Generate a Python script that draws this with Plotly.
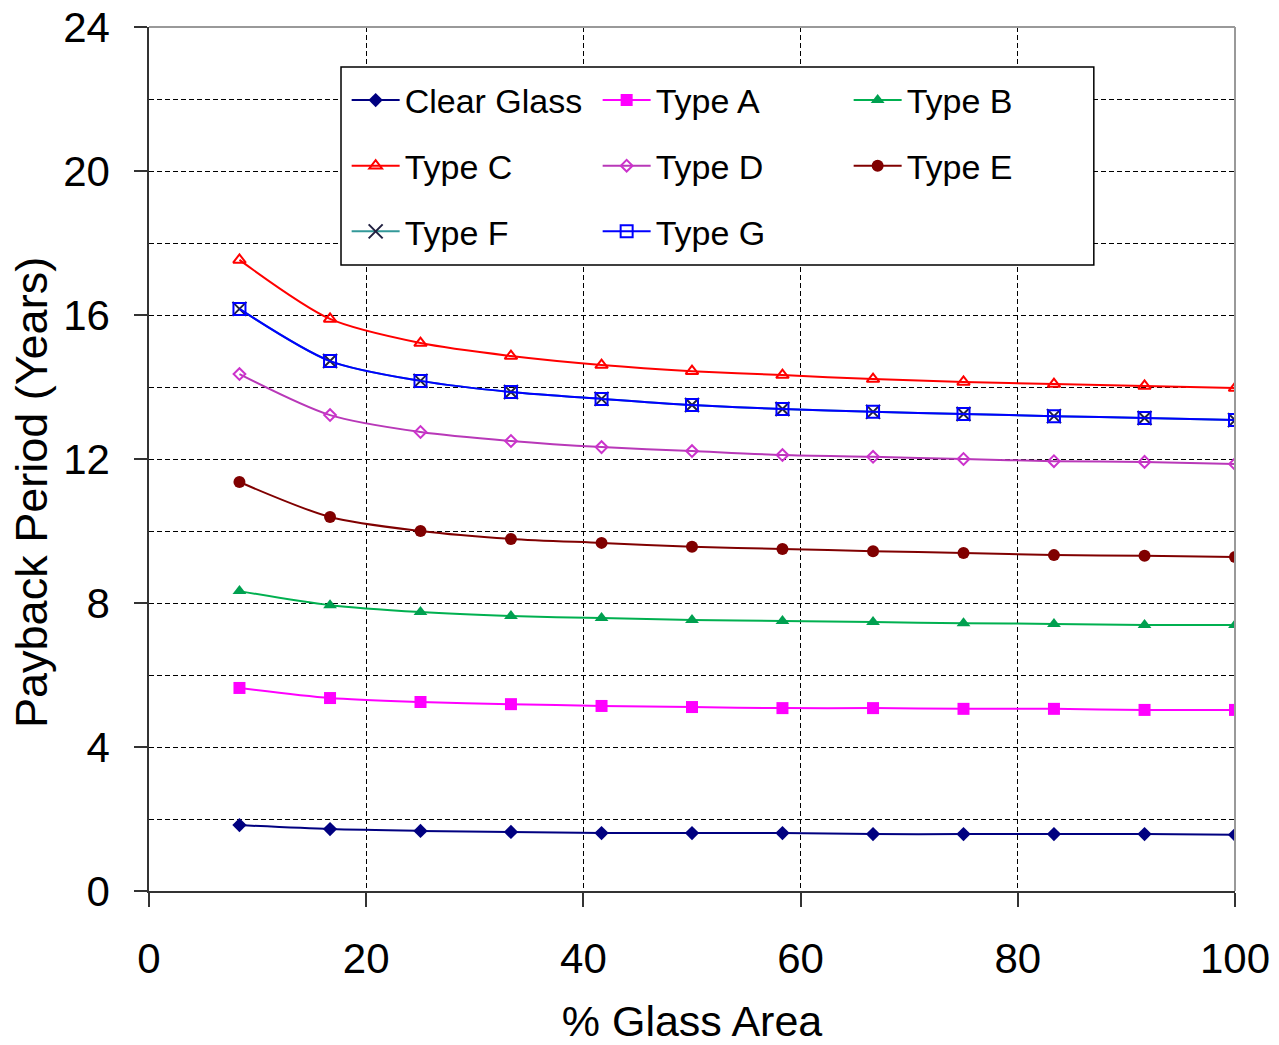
import plotly.graph_objects as go

glass_area = [8.33, 16.67, 25.0, 33.33, 41.67, 50.0, 58.33, 66.67, 75.0, 83.33, 91.67, 100.0]

clear_glass = [1.83, 1.72, 1.67, 1.64, 1.61, 1.61, 1.61, 1.58, 1.58, 1.58, 1.58, 1.56]
type_a = [5.64, 5.36, 5.25, 5.19, 5.14, 5.11, 5.08, 5.08, 5.06, 5.06, 5.03, 5.03]
type_b = [8.33, 7.94, 7.75, 7.64, 7.58, 7.53, 7.50, 7.47, 7.44, 7.42, 7.39, 7.39]
type_c = [17.53, 15.89, 15.22, 14.86, 14.61, 14.44, 14.33, 14.22, 14.14, 14.08, 14.03, 13.97]
type_d = [14.36, 13.22, 12.75, 12.50, 12.33, 12.22, 12.11, 12.06, 12.00, 11.94, 11.92, 11.86]
type_e = [11.36, 10.39, 10.00, 9.78, 9.67, 9.56, 9.50, 9.44, 9.39, 9.33, 9.31, 9.28]
type_f = [16.17, 14.72, 14.17, 13.86, 13.67, 13.50, 13.39, 13.31, 13.25, 13.19, 13.14, 13.08]
type_g = [16.17, 14.72, 14.17, 13.86, 13.67, 13.50, 13.39, 13.31, 13.25, 13.19, 13.14, 13.08]

x_ticks = [0, 20, 40, 60, 80, 100]
y_ticks = [0, 4, 8, 12, 16, 20, 24]

x_title = "% Glass Area"
y_title = "Payback Period (Years)"

FONT = "Liberation Sans, Arial, sans-serif"

series = [
    # name, values, line colour, marker symbol, marker colour, marker line colour, size, legend id
    ("Clear Glass", clear_glass, "#000080", "diamond", "#000080", "#000080", 11, "legend"),
    ("Type A", type_a, "#FF00FF", "square", "#FF00FF", "#FF00FF", 12, "legend"),
    ("Type B", type_b, "#00B050", "triangle-up", "#00A050", "#00A050", 12, "legend"),
    ("Type C", type_c, "#FF0000", "triangle-up-open", "#FF0000", "#FF0000", 11, "legend2"),
    ("Type D", type_d, "#B838B8", "diamond-open", "#CC33CC", "#CC33CC", 9, "legend2"),
    ("Type E", type_e, "#800000", "circle", "#800000", "#800000", 12, "legend2"),
    ("Type F", type_f, "#339999", "x-thin", "#202040", "#202040", 14, "legend3"),
    ("Type G", type_g, "#0000FF", "square-open", "#0000FF", "#0000FF", 12, "legend3"),
]

fig = go.Figure()
for name, vals, lc, sym, mc, mlc, size, leg in series:
    fig.add_trace(go.Scatter(
        x=glass_area, y=vals, name=name, mode="lines+markers",
        line=dict(color=lc, width=2, shape="spline", smoothing=0.8),
        marker=dict(symbol=sym, size=size, color=mc,
                    line=dict(color=mlc, width=2 if "open" in sym or "thin" in sym else 0)),
        legend=leg,
    ))

legend_common = dict(
    orientation="h", xanchor="left", yanchor="middle",
    font=dict(family=FONT, size=34, color="black"),
    bgcolor="rgba(0,0,0,0)", borderwidth=0,
    entrywidth=188, entrywidthmode="pixels", itemwidth=48,
    traceorder="normal",
)
lx = 0.182
fig.update_layout(
    legend=dict(x=lx, y=0.915, **legend_common),
    legend2=dict(x=lx, y=0.839, **legend_common),
    legend3=dict(x=lx, y=0.763, **legend_common),
)

fig.update_layout(
    width=1279, height=1045,
    margin=dict(l=149, r=44, t=27, b=154),
    paper_bgcolor="white", plot_bgcolor="white",
    font=dict(family=FONT, color="black"),
    xaxis=dict(
        range=[0, 100], tickvals=x_ticks, ticktext=[str(v) for v in x_ticks],
        ticks="outside", ticklen=14, tickwidth=1.5, tickcolor="#333333",
        showline=True, linecolor="#333333", linewidth=1.5,
        showgrid=True, gridcolor="black", gridwidth=1.2, griddash="5px,3px",
        zeroline=False, automargin=False, ticklabelstandoff=16, ticklabeloverflow="allow",
        tickfont=dict(family=FONT, size=42, color="black"),
        title=dict(text=x_title, font=dict(family=FONT, size=43, color="black"), standoff=27),
    ),
    yaxis=dict(
        range=[0, 24], tickvals=y_ticks, ticktext=[str(v) for v in y_ticks],
        ticks="outside", ticklen=13, tickwidth=1.5, tickcolor="#333333",
        showline=True, linecolor="#333333", linewidth=1.5,
        showgrid=True, gridcolor="black", gridwidth=1.2, griddash="5px,3px",
        minor=dict(dtick=2, tick0=0, showgrid=True, gridcolor="black", gridwidth=1.2,
                   griddash="5px,3px", ticks=""),
        zeroline=False, automargin=False, ticklabelstandoff=16, ticklabeloverflow="allow",
        tickfont=dict(family=FONT, size=42, color="black"),
    ),
    showlegend=True,
)

# y-axis title, placed a little below the plot-area centre as in the reference
fig.add_annotation(text=y_title, xref="paper", yref="paper", x=-0.1087, y=0.4618,
                   xanchor="center", yanchor="middle", textangle=-90, showarrow=False,
                   font=dict(family=FONT, size=45, color="black"))

# legend frame and the light plot-area border on top and right
fig.add_shape(type="rect", xref="paper", yref="paper", x0=0.1768, x1=0.870, y0=0.7245, y1=0.9537,
              line=dict(color="black", width=1.5), fillcolor="white", layer="above")
fig.add_shape(type="line", xref="paper", yref="paper", x0=0, x1=1, y0=1, y1=1,
              line=dict(color="#999999", width=2), layer="above")
fig.add_shape(type="line", xref="paper", yref="paper", x0=1, x1=1, y0=0, y1=1,
              line=dict(color="#999999", width=2), layer="above")

fig.write_html("out.html", config={"displayModeBar": False},
               post_script="document.body.style.margin='0';document.body.style.padding='0';")
